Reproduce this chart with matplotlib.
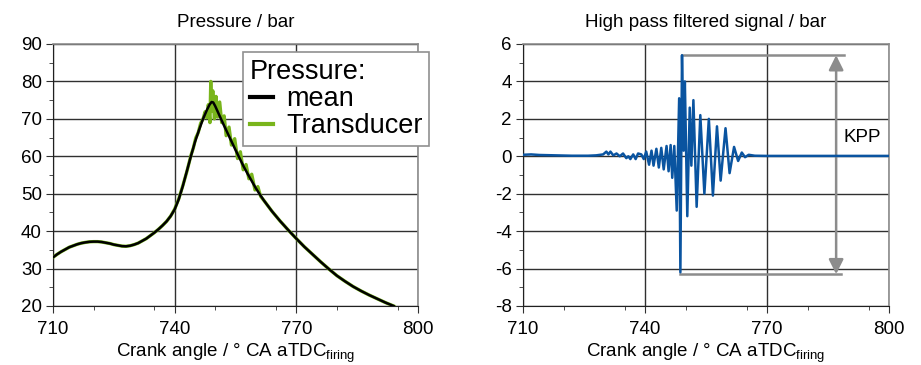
import matplotlib
matplotlib.use("Agg")
import matplotlib.pyplot as plt
import numpy as np
from matplotlib.ticker import MultipleLocator

plt.rcParams['font.family'] = ['Liberation Sans', 'DejaVu Sans']
plt.rcParams['mathtext.fontset'] = 'custom'
plt.rcParams['mathtext.rm'] = 'Liberation Sans'
plt.rcParams['axes.unicode_minus'] = False

# cylinder pressure, mean curve
mean_ca = [710, 711, 712, 713, 714, 715, 716, 717, 718, 719, 720, 721, 722, 723, 724, 725, 726,
           727, 728, 729, 730, 731, 732, 733, 734, 735, 736, 737, 738, 739, 740, 741, 742, 743,
           744, 745, 746, 747, 748, 748.6, 749.1, 749.5, 750, 751, 752, 753, 754, 755, 756, 757,
           758, 759, 760, 761, 762, 764, 766, 768, 770, 772, 774, 776, 778, 780, 782, 784, 786,
           788, 790, 792, 794]
mean_p = [33.0, 33.8, 34.5, 35.1, 35.7, 36.1, 36.5, 36.8, 37.0, 37.15, 37.2, 37.2, 37.1, 36.9,
          36.7, 36.4, 36.2, 36.0, 35.95, 36.1, 36.4, 36.8, 37.4, 38.0, 38.8, 39.6, 40.5, 41.5,
          42.6, 44.0, 45.8, 48.5, 52.0, 56.0, 60.0, 63.8, 67.0, 70.0, 72.5, 73.8, 74.5, 74.4,
          73.4, 71.0, 68.6, 66.3, 64.0, 61.7, 59.5, 57.3, 55.3, 53.4, 51.5, 49.8, 48.2, 45.3,
          42.7, 40.3, 38.0, 35.8, 33.8, 31.8, 29.9, 28.1, 26.6, 25.2, 24.0, 22.9, 21.9, 20.9, 20.0]

# raw transducer signal around the knock event (outside it follows the mean)
knock_ca = [740, 741, 742, 743, 744, 744.6, 745.2, 745.8, 746.4, 747.0, 747.5, 747.9, 748.3, 748.7,
            748.9, 749.1, 749.4, 749.8, 750.2, 750.6, 751.1, 751.6, 752.2, 752.7, 753.4, 754.0,
            754.8, 755.5, 756.2, 756.9, 757.6, 758.3, 759.0, 759.8, 760.5, 761.2, 762.0]
knock_p = [45.9, 48.6, 52.1, 55.9, 60.2, 62.2, 64.9, 66.3, 68.8, 70.0, 71.9, 70.3, 73.8, 69.0,
           80.0, 72.0, 77.5, 70.0, 76.0, 70.5, 74.5, 69.0, 70.8, 65.5, 67.8, 63.0, 64.7, 59.4,
           61.2, 56.4, 57.8, 54.0, 55.2, 51.0, 51.9, 49.3, 48.2]
trans_ca = mean_ca[:30] + knock_ca + mean_ca[55:]
trans_p = mean_p[:30] + knock_p + mean_p[55:]

# high pass filtered signal
hp_ca = [710, 712, 714, 716, 718, 722, 726, 728, 729.7, 730.5, 731.0, 731.5, 732.2, 733.0, 733.8,
         734.6, 735.4, 735.9, 736.4, 737.1, 737.7, 738.3, 739.1, 739.7, 740.3, 741.0, 741.6,
         742.1, 742.8, 743.4, 744.0, 744.6, 745.3, 745.8, 746.3, 746.7, 747.2, 747.8, 748.4,
         748.7, 749.1, 749.5, 749.8, 750.4, 751.0, 751.4, 751.9, 752.7, 753.6, 754.6, 755.7,
         756.7, 757.7, 758.6, 759.8, 760.8, 761.9, 762.9, 763.8, 764.6, 765.5, 767, 770, 780, 800]
hp_p = [0.08, 0.1, 0.07, 0.06, 0.05, 0.03, 0.03, 0.05, 0.1, 0.25, 0.1, 0.25, 0.05, 0.15, 0.0,
        0.15, -0.1, 0.0, -0.15, 0.1, -0.15, 0.15, 0.1, -0.15, 0.25, -0.45, 0.3, -0.5, 0.4, -0.6,
        0.45, -0.7, 0.55, -0.8, 0.6, -1.15, 0.55, -2.9, 3.1, -6.2, 5.4, 0.3, 4.0, -3.2, 2.6,
        -0.5, 3.0, -2.7, 2.2, -2.0, 2.0, -2.1, 1.6, -1.3, 1.5, -0.9, 0.5, -0.25, 0.2, -0.05,
        0.08, 0.03, 0.02, 0.02, 0.02]

fig = plt.figure(figsize=(9.21, 3.65), dpi=100)
ax1 = fig.add_axes([53 / 921, 59 / 365, 365 / 921, 262 / 365])
ax2 = fig.add_axes([523 / 921, 59 / 365, 366 / 921, 262 / 365])

fs = 13.5
for ax in (ax1, ax2):
    ax.set_xlim(710, 800)
    ax.set_xticks([710, 740, 770, 800])
    ax.xaxis.set_minor_locator(MultipleLocator(15))
    ax.grid(True, which='major', color='#303030', lw=1.0)
    ax.set_axisbelow(True)
    ax.tick_params(which='both', direction='out', labelsize=fs, color='#303030')
    ax.tick_params(which='major', length=5)
    ax.tick_params(which='minor', length=3)
    ax.tick_params(axis='x', pad=6)
    ax.tick_params(axis='y', pad=3)
    for s in ('top', 'right'):
        ax.spines[s].set_color('#8c8c8c')
        ax.spines[s].set_linewidth(1.2)
    for s in ('left', 'bottom'):
        ax.spines[s].set_color('#202020')
    ax.set_xlabel(r'Crank angle / ° CA aTDC$_{\mathrm{firing}}$', fontsize=fs, labelpad=2)

# left: pressure
ax1.set_ylim(20, 90)
ax1.set_yticks(range(20, 91, 10))
ax1.yaxis.set_minor_locator(MultipleLocator(5))
ax1.plot(trans_ca, trans_p, color='#79b51c', lw=2.4, label='Transducer', zorder=3,
         solid_joinstyle='round')
ax1.plot(mean_ca, mean_p, color='black', lw=1.8, label='mean', zorder=4,
         solid_joinstyle='round')
ax1.set_title('Pressure / bar', fontsize=fs, pad=12)
h, l = ax1.get_legend_handles_labels()
leg = ax1.legend(h[::-1], l[::-1], title='Pressure:', loc='upper left',
                 bbox_to_anchor=(0.52, 0.97), borderaxespad=0, fontsize=19.5,
                 title_fontsize=19.5, frameon=True, fancybox=False, framealpha=1,
                 edgecolor='#909090', handlelength=0.85, handletextpad=0.5,
                 borderpad=0.25, labelspacing=0.05)
leg._legend_box.align = 'left'
leg.get_frame().set_linewidth(1.2)
for line in leg.get_lines():
    line.set_linewidth(3)
leg.set_zorder(10)
leg.set_clip_on(False)

# right: high pass filtered signal
ax2.set_ylim(-8, 6)
ax2.set_yticks(range(-8, 7, 2))
ax2.yaxis.set_minor_locator(MultipleLocator(1))
ax2.plot(hp_ca, hp_p, color='#0a54a0', lw=1.8, zorder=4, solid_joinstyle='round')
ax2.set_title('High pass filtered signal / bar', fontsize=fs, pad=12)

# knock peak-to-peak marker
i_max = int(np.argmax(hp_p))
i_min = int(np.argmin(hp_p))
kpp_x = 787
ax2.plot([hp_ca[i_max], 789], [hp_p[i_max], hp_p[i_max]], color='#8c8c8c', lw=1.8, zorder=3)
ax2.plot([hp_ca[i_min], 788.3], [hp_p[i_min] - 0.1, hp_p[i_min] - 0.1], color='#8c8c8c', lw=1.8, zorder=3)
ax2.annotate('', xy=(kpp_x, hp_p[i_max]), xytext=(kpp_x, hp_p[i_min] - 0.1),
             arrowprops=dict(arrowstyle='<|-|>', color='#8c8c8c', lw=1.8,
                             mutation_scale=22, shrinkA=0, shrinkB=0))
ax2.text(793.3, 1.0, 'KPP', fontsize=fs, ha='center', va='center')

fig.savefig('out.png', dpi=100)
